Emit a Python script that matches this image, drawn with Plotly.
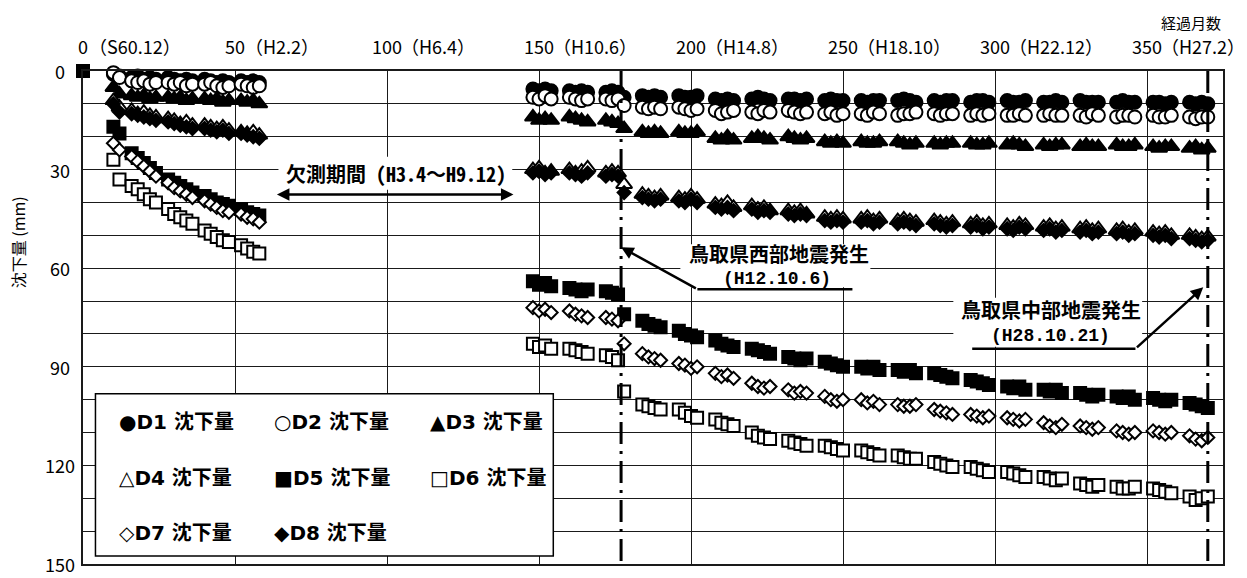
import plotly.graph_objects as go

# ---- measurement months (elapsed months since S60.12) ----
MONTHS_EARLY = [0, 10, 12, 16, 18, 20, 22, 24, 28, 30, 32, 34, 36,
                40, 42, 44, 46, 48, 52, 54, 56, 58]
MONTHS_LATE = [148, 150, 152, 154, 160, 162, 164, 166, 172, 174, 176, 178,
               184, 186, 188, 190, 196, 198, 200, 202, 208, 210, 212, 214,
               220, 222, 224, 226, 232, 234, 236, 238, 244, 246, 248, 250,
               256, 258, 260, 262, 268, 270, 272, 274, 280, 282, 284, 286,
               292, 294, 296, 298, 304, 306, 308, 310, 316, 318, 320, 322,
               328, 330, 332, 334, 340, 342, 344, 346, 352, 354, 356, 358,
               364, 366, 368, 370]

# ---- settlement (mm) ----
D1_EARLY = [None, 1.0, 1.5, 2.0, 1.5, 2.5, 2.0, 2.5, 2.0, 2.5, 3.0, 2.5, 3.0,
            2.5, 3.0, 3.5, 3.0, 3.5, 3.0, 3.5, 3.0, 3.5]
D1_LATE = [5.5, 6.0, 5.5, 6.0, 6.0, 6.5, 6.0, 6.5, 6.5, 6.0, 6.5, 8.0,
           7.5, 8.0, 7.5, 8.0, 7.5, 8.0, 8.0, 7.5, 8.5, 9.0, 8.5, 9.0,
           8.5, 8.0, 8.5, 9.0, 8.5, 8.5, 9.0, 8.5, 9.0, 8.5, 9.0, 9.0,
           9.0, 9.5, 9.0, 9.0, 9.0, 8.5, 9.0, 9.5, 9.0, 9.5, 9.0, 9.0,
           9.5, 9.0, 9.0, 9.5, 9.0, 9.5, 9.5, 9.0, 9.5, 9.5, 9.0, 9.5,
           9.0, 9.5, 9.5, 9.5, 9.5, 9.0, 9.5, 9.5, 9.5, 9.5, 10.0, 9.5,
           9.5, 10.0, 9.5, 10.0]

D2_EARLY = [None, 0.5, 2.0, 3.0, 3.5, 3.0, 4.0, 3.5, 3.5, 4.0, 3.5, 4.5, 4.0,
            4.0, 3.5, 4.5, 5.0, 4.5, 4.0, 4.5, 5.0, 4.5]
D2_LATE = [8.0, 8.5, 7.5, 8.5, 8.0, 8.5, 9.0, 8.5, 8.5, 9.0, 8.5, 10.5,
           11.0, 11.5, 11.0, 11.5, 11.0, 11.5, 12.0, 11.5, 12.0, 13.0, 12.5, 12.0,
           12.5, 13.0, 12.0, 12.5, 12.0, 12.5, 13.0, 12.5, 13.0, 12.5, 13.5, 13.0,
           13.0, 13.5, 12.5, 13.0, 13.5, 13.0, 13.0, 12.5, 13.0, 13.5, 13.0, 13.0,
           13.5, 13.0, 13.5, 13.0, 13.5, 13.5, 13.0, 13.5, 13.5, 13.0, 13.5, 13.5,
           13.5, 14.0, 13.0, 13.5, 14.0, 13.5, 13.5, 14.0, 13.5, 14.0, 14.0, 13.5,
           14.0, 14.5, 14.0, 14.0]

D3_EARLY = [None, 5.0, 7.0, 7.5, 8.0, 7.5, 8.5, 8.0, 8.0, 8.5, 8.0, 9.0, 8.5,
            8.5, 9.0, 8.5, 9.5, 9.0, 9.0, 9.5, 9.0, 10.0]
D3_LATE = [14.0, 15.0, 14.5, 15.0, 14.0, 14.5, 15.0, 15.5, 15.0, 15.5, 16.0, 17.5,
           18.5, 19.0, 18.5, 19.0, 18.5, 19.0, 19.0, 18.5, 20.5, 21.0, 20.0, 21.0,
           20.5, 20.0, 20.5, 21.0, 20.0, 20.5, 21.0, 20.5, 21.5, 22.0, 21.5, 22.0,
           21.5, 22.0, 22.0, 21.5, 21.5, 22.0, 22.5, 22.0, 22.0, 22.5, 22.0, 22.0,
           22.0, 22.5, 22.5, 22.0, 22.5, 22.0, 22.5, 23.0, 22.5, 23.0, 22.5, 22.5,
           23.0, 22.5, 23.0, 23.0, 22.5, 23.0, 23.0, 22.5, 23.0, 23.5, 23.0, 23.0,
           23.5, 23.0, 24.0, 23.5]

D4_EARLY = [None, 9.0, 11.0, 12.0, 13.0, 12.5, 13.5, 14.0, 14.5, 15.0, 16.0, 15.5,
            16.5, 16.5, 17.0, 17.5, 17.0, 18.0, 18.5, 19.0, 18.5, 19.5]
D4_LATE = [30.0, 29.5, 31.0, 30.5, 30.0, 31.0, 30.5, 29.5, 31.0, 30.5, 31.0, 34.5,
           37.5, 38.0, 38.5, 38.0, 38.5, 39.0, 38.0, 39.0, 40.5, 41.0, 40.0, 41.5,
           41.0, 42.0, 41.5, 42.5, 42.5, 43.0, 42.5, 43.5, 44.5, 45.0, 44.5, 45.0,
           45.0, 44.5, 45.5, 45.0, 45.5, 45.0, 45.5, 46.0, 45.5, 46.0, 46.5, 46.0,
           46.5, 46.0, 47.0, 46.5, 47.0, 47.5, 46.5, 47.0, 47.5, 47.0, 48.0, 47.5,
           48.0, 47.5, 48.5, 48.0, 48.5, 48.0, 49.0, 48.5, 49.0, 49.5, 49.0, 50.0,
           50.0, 50.5, 51.0, 50.5]

D5_EARLY = [0.0, 17.0, 19.0, 25.0, 26.5, 28.0, 29.5, 31.0, 33.0, 34.0, 35.0, 36.0,
            37.0, 38.0, 39.0, 40.0, 40.5, 41.0, 42.0, 43.0, 43.5, 44.0]
D5_LATE = [64.0, 65.0, 64.5, 65.5, 66.0, 66.5, 67.0, 66.5, 67.0, 67.5, 68.0, 74.0,
           76.0, 77.0, 77.5, 78.0, 79.0, 80.0, 80.5, 81.0, 82.0, 83.0, 83.5, 84.0,
           84.5, 85.0, 85.5, 86.0, 87.0, 87.5, 88.0, 87.5, 88.5, 89.0, 89.5, 90.0,
           90.0, 90.5, 90.0, 91.0, 91.0, 91.5, 91.0, 92.0, 92.0, 92.5, 93.0, 93.5,
           94.0, 94.5, 95.0, 95.5, 96.0, 96.5, 96.0, 97.0, 97.0, 97.5, 97.0, 98.0,
           98.0, 98.5, 99.0, 98.5, 99.0, 99.5, 99.0, 100.0, 99.5, 100.0, 100.5, 100.0,
           101.0, 101.5, 102.0, 102.5]

D6_EARLY = [None, 27.0, 33.0, 35.0, 36.0, 37.5, 39.0, 40.0, 42.0, 43.5, 44.5, 45.5,
            46.5, 48.5, 49.5, 50.5, 51.5, 52.0, 53.0, 54.0, 55.0, 55.5]
D6_LATE = [83.0, 84.0, 83.5, 84.5, 84.5, 85.0, 85.5, 86.0, 86.5, 87.0, 88.0, 97.5,
           101.5, 102.0, 102.5, 103.0, 103.0, 104.0, 105.0, 105.5, 106.0, 107.0, 107.5, 108.0,
           110.0, 111.0, 111.5, 112.0, 112.5, 113.0, 113.5, 114.0, 114.0, 114.5, 115.0, 115.5,
           115.5, 116.0, 116.5, 117.0, 117.0, 117.5, 118.0, 118.0, 119.0, 119.5, 120.0, 120.5,
           120.5, 121.0, 121.5, 122.0, 122.0, 122.5, 123.0, 123.5, 123.5, 124.0, 124.5, 124.0,
           125.5, 126.0, 126.5, 126.0, 126.5, 127.0, 127.0, 126.5, 127.0, 127.5, 128.0, 128.5,
           129.5, 130.5, 130.0, 129.5]

D7_EARLY = [None, 22.0, 24.0, 26.0, 27.5, 29.0, 30.5, 32.0, 34.0, 35.5, 36.5, 37.5,
            38.5, 39.5, 40.5, 41.5, 42.5, 43.0, 43.5, 44.5, 45.0, 46.0]
D7_LATE = [72.0, 73.0, 72.5, 73.5, 73.0, 74.0, 74.5, 75.0, 75.0, 75.5, 76.0, 83.0,
           86.0, 87.0, 87.5, 88.0, 89.0, 89.5, 90.5, 90.0, 92.0, 93.0, 92.5, 93.5,
           95.0, 96.0, 96.5, 96.0, 97.0, 98.0, 97.5, 98.0, 99.0, 100.0, 100.5, 100.0,
           100.0, 101.0, 100.5, 101.5, 101.5, 102.0, 102.0, 101.5, 103.0, 103.5, 104.0, 104.5,
           104.5, 105.0, 105.5, 105.0, 105.5, 106.0, 106.5, 106.0, 107.0, 108.0, 108.5, 107.5,
           108.0, 108.5, 109.0, 108.5, 109.5, 110.0, 110.5, 110.0, 109.5, 110.0, 110.5, 110.0,
           111.0, 112.0, 112.5, 111.5]

D8_EARLY = [None, 10.0, 12.5, 13.0, 13.5, 14.0, 14.5, 15.0, 15.5, 16.0, 16.5, 17.0,
            17.5, 17.5, 18.0, 18.5, 18.0, 19.0, 19.0, 19.5, 20.0, 20.5]
D8_LATE = [31.0, 30.5, 31.5, 31.0, 31.0, 31.5, 32.0, 31.0, 32.0, 31.5, 32.0, 37.0,
           38.5, 39.0, 39.5, 39.0, 39.5, 40.0, 39.0, 40.0, 41.5, 42.0, 41.5, 42.5,
           42.0, 43.0, 42.5, 43.0, 43.5, 44.0, 43.5, 44.0, 45.5, 46.0, 45.5, 46.0,
           46.0, 45.5, 46.5, 46.0, 46.5, 46.0, 46.5, 47.0, 46.5, 47.0, 47.5, 47.0,
           47.5, 47.0, 48.0, 47.5, 48.0, 48.5, 47.5, 48.0, 48.5, 48.0, 49.0, 48.5,
           49.0, 48.5, 49.5, 49.0, 49.5, 49.0, 50.0, 49.5, 50.0, 50.5, 50.0, 51.0,
           51.0, 51.5, 52.0, 51.5]

# ---- axis labels ----
X_TICKS = [0, 50, 100, 150, 200, 250, 300, 350]
X_DATES = ["S60.12", "H2.2", "H6.4", "H10.6", "H14.8", "H18.10", "H22.12", "H27.2"]
Y_LABELS = [0, 30, 60, 90, 120, 150]

# ---- events (elapsed months) ----
EQ_WEST = 177     # 鳥取県西部地震 H12.10.6
EQ_CENTRAL = 370  # 鳥取県中部地震 H28.10.21

SERIES = [
    ("D1", D1_EARLY, D1_LATE, "circle", 13, "black"),
    ("D2", D2_EARLY, D2_LATE, "circle", 13, "white"),
    ("D3", D3_EARLY, D3_LATE, "triangle-up", 14, "black"),
    ("D4", D4_EARLY, D4_LATE, "triangle-up", 14, "white"),
    ("D5", D5_EARLY, D5_LATE, "square", 12, "black"),
    ("D6", D6_EARLY, D6_LATE, "square", 12, "white"),
    ("D7", D7_EARLY, D7_LATE, "diamond", 10, "white"),
    ("D8", D8_EARLY, D8_LATE, "diamond", 10, "black"),
]

CJK = "Noto Sans CJK JP"
MONO = "Noto Sans Mono CJK JP, Noto Sans CJK JP"
NARROW = "Liberation Sans Narrow, Noto Sans CJK JP"
LATIN_MONO = "Liberation Mono, DejaVu Sans Mono"

fig = go.Figure()
months = MONTHS_EARLY + MONTHS_LATE
for name, early, late, sym, size, fill in SERIES:
    fig.add_trace(go.Scatter(
        x=months, y=early + late, mode="markers", name=f"{name} 沈下量",
        marker=dict(symbol=sym, size=size, color=fill,
                    line=dict(color="black", width=2)),
        cliponaxis=False, showlegend=False,
    ))

shapes = []
annotations = []

# earthquake markers: dash-dot verticals
for xm in (EQ_WEST, EQ_CENTRAL):
    shapes.append(dict(type="line", xref="x", yref="y", x0=xm, x1=xm, y0=0, y1=150,
                       line=dict(color="black", width=3, dash="22px,7px,3px,7px"),
                       layer="above"))

# white panels behind callout texts
for x0, x1, y0, y1 in [(64.3, 141.2, 26.1, 36.1),
                       (196.5, 259.0, 52.7, 65.8),
                       (286.3, 348.4, 69.0, 83.9)]:
    shapes.append(dict(type="rect", xref="x", yref="y", x0=x0, x1=x1, y0=y0, y1=y1,
                       fillcolor="white", line=dict(width=0), layer="between"))

# missing-data period
annotations.append(dict(xref="x", yref="y", x=102.8, y=31.2, showarrow=False,
                        text="<b>欠測期間 (H3.4～H9.12)</b>",
                        font=dict(family=MONO, size=20, color="black")))
annotations.append(dict(xref="x", yref="y", x=141.6, y=37.6, ax=63.3, ay=37.6,
                        axref="x", ayref="y", text="", showarrow=True,
                        arrowhead=2, arrowside="end+start", arrowsize=1,
                        arrowwidth=2.5, arrowcolor="black"))

# west earthquake callout
annotations.append(dict(xref="x", yref="y", x=229.0, y=55.6, showarrow=False,
                        text="<b>鳥取県西部地震発生</b>",
                        font=dict(family=CJK, size=20, color="black")))
annotations.append(dict(xref="x", yref="y", x=228.4, y=63.4, showarrow=False,
                        text="<b>(H12.10.6)</b>",
                        font=dict(family=LATIN_MONO, size=18, color="black")))
shapes.append(dict(type="line", xref="x", yref="y", x0=202.1, x1=253.1, y0=66.4, y1=66.4,
                   line=dict(color="black", width=2.5)))
annotations.append(dict(xref="x", yref="y", x=EQ_WEST, y=53.6, ax=202.1, ay=66.4,
                        axref="x", ayref="y", text="", showarrow=True,
                        arrowhead=2, arrowsize=1, arrowwidth=2.5, arrowcolor="black"))

# central earthquake callout
annotations.append(dict(xref="x", yref="y", x=318.5, y=72.7, showarrow=False,
                        text="<b>鳥取県中部地震発生</b>",
                        font=dict(family=CJK, size=20, color="black")))
annotations.append(dict(xref="x", yref="y", x=318.2, y=80.5, showarrow=False,
                        text="<b>(H28.10.21)</b>",
                        font=dict(family=LATIN_MONO, size=18, color="black")))
shapes.append(dict(type="line", xref="x", yref="y", x0=292.5, x1=346.2, y0=84.5, y1=84.5,
                   line=dict(color="black", width=2.5)))
annotations.append(dict(xref="x", yref="y", x=368.5, y=65.8, ax=346.2, ay=84.5,
                        axref="x", ayref="y", text="", showarrow=True,
                        arrowhead=2, arrowsize=1, arrowwidth=2.5, arrowcolor="black"))

# legend panel
shapes.append(dict(type="rect", xref="x", yref="y", x0=4.1, x1=154.7, y0=98.2, y1=147.6,
                   fillcolor="white", line=dict(color="black", width=1.5), layer="above"))
legend_glyph = {"D1": "●", "D2": "○", "D3": "▲", "D4": "△",
                "D5": "■", "D6": "□", "D7": "◇", "D8": "◆"}
legend_cols = [11.3, 62.3, 113.6]
legend_rows = [106.7, 123.9, 140.6]
for i, (name, *_rest) in enumerate(SERIES):
    annotations.append(dict(
        xref="x", yref="y", x=legend_cols[i % 3], y=legend_rows[i // 3],
        xanchor="left", showarrow=False,
        text=f"<b>{legend_glyph[name]}{name} 沈下量</b>",
        font=dict(family="DejaVu Sans, Noto Sans CJK JP", size=20, color="black")))

# top axis labels: count centred on gridline, date alongside
for xt, dt in zip(X_TICKS, X_DATES):
    num = str(xt)
    annotations.append(dict(xref="x", yref="paper", x=xt, y=1, yshift=25,
                            xanchor="center", yanchor="middle", showarrow=False,
                            text=num, font=dict(family=NARROW, size=18, color="black")))
    annotations.append(dict(xref="x", yref="paper", x=xt, y=1, yshift=25,
                            xshift=len(num) * 4.1, xanchor="left", yanchor="middle",
                            showarrow=False, text=f"（{dt}）",
                            font=dict(family=NARROW, size=18, color="black")))
annotations.append(dict(xref="paper", yref="paper", x=1, y=1, yshift=49,
                        xanchor="right", yanchor="middle", showarrow=False,
                        text="経過月数", font=dict(family=CJK, size=15, color="black")))

# left axis labels
for yv in Y_LABELS:
    annotations.append(dict(xref="paper", yref="y", x=-0.0202, y=yv,
                            xanchor="center", yanchor="middle", showarrow=False,
                            text=str(yv), font=dict(family=NARROW, size=18, color="black")))
annotations.append(dict(xref="paper", yref="y", x=-0.057, y=52.1, textangle=-90,
                        xanchor="center", yanchor="middle", showarrow=False,
                        text="沈下量 (mm)", font=dict(family=CJK, size=16, color="black")))

fig.update_layout(
    width=1247, height=578,
    margin=dict(l=83, r=24, t=71, b=12),
    paper_bgcolor="white", plot_bgcolor="white",
    shapes=shapes, annotations=annotations,
    xaxis=dict(range=[0, 375], side="top", tickvals=X_TICKS, showticklabels=False,
               showgrid=True, gridcolor="#1a1a1a", gridwidth=1.3, zeroline=False,
               showline=True, mirror=True, linecolor="#1a1a1a", linewidth=1.5, ticks=""),
    yaxis=dict(range=[150, 0], tickvals=list(range(0, 151, 10)), showticklabels=False,
               showgrid=True, gridcolor="#1a1a1a", gridwidth=1.3, zeroline=False,
               showline=True, mirror=True, linecolor="#1a1a1a", linewidth=1.5, ticks=""),
)

fig.write_html("out.html")
